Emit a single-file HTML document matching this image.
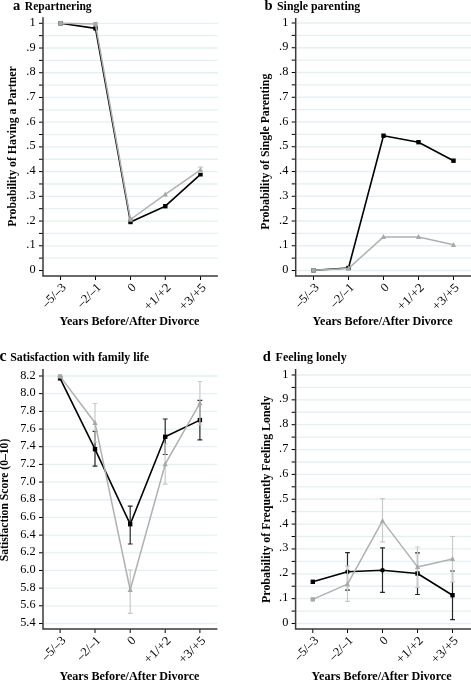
<!DOCTYPE html>
<html><head><meta charset="utf-8"><style>
html,body{margin:0;padding:0;background:#fff;}
svg{display:block;font-family:"Liberation Serif", serif;will-change:transform;}
</style></head><body>
<svg width="471" height="682" viewBox="0 0 471 682">
<rect width="471" height="682" fill="#fff"/>
<line x1="44.0" y1="258.14" x2="217.9" y2="258.14" stroke="#e6eff1" stroke-width="1.3"/>
<line x1="44.0" y1="245.78" x2="217.9" y2="245.78" stroke="#e6eff1" stroke-width="1.3"/>
<line x1="44.0" y1="233.42" x2="217.9" y2="233.42" stroke="#e6eff1" stroke-width="1.3"/>
<line x1="44.0" y1="221.06" x2="217.9" y2="221.06" stroke="#e6eff1" stroke-width="1.3"/>
<line x1="44.0" y1="208.7" x2="217.9" y2="208.7" stroke="#e6eff1" stroke-width="1.3"/>
<line x1="44.0" y1="196.34" x2="217.9" y2="196.34" stroke="#e6eff1" stroke-width="1.3"/>
<line x1="44.0" y1="183.98" x2="217.9" y2="183.98" stroke="#e6eff1" stroke-width="1.3"/>
<line x1="44.0" y1="171.62" x2="217.9" y2="171.62" stroke="#e6eff1" stroke-width="1.3"/>
<line x1="44.0" y1="159.26" x2="217.9" y2="159.26" stroke="#e6eff1" stroke-width="1.3"/>
<line x1="44.0" y1="146.9" x2="217.9" y2="146.9" stroke="#e6eff1" stroke-width="1.3"/>
<line x1="44.0" y1="134.54" x2="217.9" y2="134.54" stroke="#e6eff1" stroke-width="1.3"/>
<line x1="44.0" y1="122.18" x2="217.9" y2="122.18" stroke="#e6eff1" stroke-width="1.3"/>
<line x1="44.0" y1="109.82" x2="217.9" y2="109.82" stroke="#e6eff1" stroke-width="1.3"/>
<line x1="44.0" y1="97.46" x2="217.9" y2="97.46" stroke="#e6eff1" stroke-width="1.3"/>
<line x1="44.0" y1="85.1" x2="217.9" y2="85.1" stroke="#e6eff1" stroke-width="1.3"/>
<line x1="44.0" y1="72.74" x2="217.9" y2="72.74" stroke="#e6eff1" stroke-width="1.3"/>
<line x1="44.0" y1="60.38" x2="217.9" y2="60.38" stroke="#e6eff1" stroke-width="1.3"/>
<line x1="44.0" y1="48.02" x2="217.9" y2="48.02" stroke="#e6eff1" stroke-width="1.3"/>
<line x1="44.0" y1="35.66" x2="217.9" y2="35.66" stroke="#e6eff1" stroke-width="1.3"/>
<line x1="44.0" y1="23.3" x2="217.9" y2="23.3" stroke="#e6eff1" stroke-width="1.3"/>
<line x1="39.0" y1="270.5" x2="43.0" y2="270.5" stroke="#000" stroke-width="1"/>
<text x="35.6" y="273.0" text-anchor="end" font-size="12.3">0</text>
<line x1="39.0" y1="258.14" x2="43.0" y2="258.14" stroke="#000" stroke-width="1"/>
<line x1="39.0" y1="245.78" x2="43.0" y2="245.78" stroke="#000" stroke-width="1"/>
<text x="35.6" y="248.28" text-anchor="end" font-size="12.3">.1</text>
<line x1="39.0" y1="233.42" x2="43.0" y2="233.42" stroke="#000" stroke-width="1"/>
<line x1="39.0" y1="221.06" x2="43.0" y2="221.06" stroke="#000" stroke-width="1"/>
<text x="35.6" y="223.56" text-anchor="end" font-size="12.3">.2</text>
<line x1="39.0" y1="208.7" x2="43.0" y2="208.7" stroke="#000" stroke-width="1"/>
<line x1="39.0" y1="196.34" x2="43.0" y2="196.34" stroke="#000" stroke-width="1"/>
<text x="35.6" y="198.84" text-anchor="end" font-size="12.3">.3</text>
<line x1="39.0" y1="183.98" x2="43.0" y2="183.98" stroke="#000" stroke-width="1"/>
<line x1="39.0" y1="171.62" x2="43.0" y2="171.62" stroke="#000" stroke-width="1"/>
<text x="35.6" y="174.12" text-anchor="end" font-size="12.3">.4</text>
<line x1="39.0" y1="159.26" x2="43.0" y2="159.26" stroke="#000" stroke-width="1"/>
<line x1="39.0" y1="146.9" x2="43.0" y2="146.9" stroke="#000" stroke-width="1"/>
<text x="35.6" y="149.4" text-anchor="end" font-size="12.3">.5</text>
<line x1="39.0" y1="134.54" x2="43.0" y2="134.54" stroke="#000" stroke-width="1"/>
<line x1="39.0" y1="122.18" x2="43.0" y2="122.18" stroke="#000" stroke-width="1"/>
<text x="35.6" y="124.68" text-anchor="end" font-size="12.3">.6</text>
<line x1="39.0" y1="109.82" x2="43.0" y2="109.82" stroke="#000" stroke-width="1"/>
<line x1="39.0" y1="97.46" x2="43.0" y2="97.46" stroke="#000" stroke-width="1"/>
<text x="35.6" y="99.96" text-anchor="end" font-size="12.3">.7</text>
<line x1="39.0" y1="85.1" x2="43.0" y2="85.1" stroke="#000" stroke-width="1"/>
<line x1="39.0" y1="72.74" x2="43.0" y2="72.74" stroke="#000" stroke-width="1"/>
<text x="35.6" y="75.24" text-anchor="end" font-size="12.3">.8</text>
<line x1="39.0" y1="60.38" x2="43.0" y2="60.38" stroke="#000" stroke-width="1"/>
<line x1="39.0" y1="48.02" x2="43.0" y2="48.02" stroke="#000" stroke-width="1"/>
<text x="35.6" y="50.52" text-anchor="end" font-size="12.3">.9</text>
<line x1="39.0" y1="35.66" x2="43.0" y2="35.66" stroke="#000" stroke-width="1"/>
<line x1="39.0" y1="23.3" x2="43.0" y2="23.3" stroke="#000" stroke-width="1"/>
<text x="35.6" y="25.8" text-anchor="end" font-size="12.3">1</text>
<line x1="60.5" y1="276.0" x2="60.5" y2="280.0" stroke="#000" stroke-width="1"/>
<line x1="95.5" y1="276.0" x2="95.5" y2="280.0" stroke="#000" stroke-width="1"/>
<line x1="130.5" y1="276.0" x2="130.5" y2="280.0" stroke="#000" stroke-width="1"/>
<line x1="165.3" y1="276.0" x2="165.3" y2="280.0" stroke="#000" stroke-width="1"/>
<line x1="200.5" y1="276.0" x2="200.5" y2="280.0" stroke="#000" stroke-width="1"/>
<path d="M43.0 17.3 V276.0 H217.9" fill="none" stroke="#3a3a3a" stroke-width="1.5"/>
<text x="66.8" y="288.1" text-anchor="end" font-size="12.5" transform="rotate(-45 66.8 288.1)">–5/–3</text>
<text x="101.8" y="288.1" text-anchor="end" font-size="12.5" transform="rotate(-45 101.8 288.1)">–2/–1</text>
<text x="136.8" y="288.1" text-anchor="end" font-size="12.5" transform="rotate(-45 136.8 288.1)">0</text>
<text x="171.60000000000002" y="288.1" text-anchor="end" font-size="12.5" transform="rotate(-45 171.60000000000002 288.1)" textLength="32.5" lengthAdjust="spacingAndGlyphs">+1/+2</text>
<text x="206.8" y="288.1" text-anchor="end" font-size="12.5" transform="rotate(-45 206.8 288.1)" textLength="32.5" lengthAdjust="spacingAndGlyphs">+3/+5</text>
<text x="59.5" y="325" font-weight="bold" font-size="12" textLength="140" lengthAdjust="spacingAndGlyphs">Years Before/After Divorce</text>
<text x="16.0" y="146.5" font-weight="bold" font-size="12" text-anchor="middle" transform="rotate(-90 16.0 146.5)" textLength="160.4" lengthAdjust="spacingAndGlyphs">Probability of Having a Partner</text>
<text x="13.0" y="9.6" font-weight="bold" font-size="14.5">a</text>
<text x="24.8" y="9.6" font-weight="bold" font-size="11.8" textLength="66.8" lengthAdjust="spacingAndGlyphs">Repartnering</text>
<polyline points="60.5,23.3 95.5,28.4 130.5,222.0 165.3,206.2 200.5,174.3" fill="none" stroke="#000" stroke-width="1.6" stroke-linejoin="round"/>
<rect x="58.3" y="21.1" width="4.4" height="4.4" fill="#000"/>
<rect x="93.3" y="26.2" width="4.4" height="4.4" fill="#000"/>
<rect x="128.3" y="219.8" width="4.4" height="4.4" fill="#000"/>
<rect x="163.10000000000002" y="204.0" width="4.4" height="4.4" fill="#000"/>
<rect x="198.3" y="172.10000000000002" width="4.4" height="4.4" fill="#000"/>
<path d="M200.5 167.2 V172.4 M198.1 167.2 H202.9 M198.1 172.4 H202.9" stroke="#c8c8c8" stroke-width="1.2" fill="none"/>
<polyline points="60.5,23.3 95.5,24.1 130.5,219.5 165.3,194.3 200.5,169.8" fill="none" stroke="#b0b0b0" stroke-width="1.5" stroke-linejoin="round"/>
<rect x="58.3" y="21.1" width="4.4" height="4.4" fill="#a8a8a8"/>
<rect x="93.3" y="21.900000000000002" width="4.4" height="4.4" fill="#a8a8a8"/>
<rect x="128.3" y="217.3" width="4.4" height="4.4" fill="#a8a8a8"/>
<path d="M165.3 191.4 L167.9 196.4 L162.70000000000002 196.4 Z" fill="#a8a8a8"/>
<path d="M200.5 166.9 L203.1 171.9 L197.9 171.9 Z" fill="#a8a8a8"/>
<line x1="296.7" y1="270.5" x2="471" y2="270.5" stroke="#e6eff1" stroke-width="1.3"/>
<line x1="296.7" y1="258.12" x2="471" y2="258.12" stroke="#e6eff1" stroke-width="1.3"/>
<line x1="296.7" y1="245.75" x2="471" y2="245.75" stroke="#e6eff1" stroke-width="1.3"/>
<line x1="296.7" y1="233.38" x2="471" y2="233.38" stroke="#e6eff1" stroke-width="1.3"/>
<line x1="296.7" y1="221.0" x2="471" y2="221.0" stroke="#e6eff1" stroke-width="1.3"/>
<line x1="296.7" y1="208.62" x2="471" y2="208.62" stroke="#e6eff1" stroke-width="1.3"/>
<line x1="296.7" y1="196.25" x2="471" y2="196.25" stroke="#e6eff1" stroke-width="1.3"/>
<line x1="296.7" y1="183.88" x2="471" y2="183.88" stroke="#e6eff1" stroke-width="1.3"/>
<line x1="296.7" y1="171.5" x2="471" y2="171.5" stroke="#e6eff1" stroke-width="1.3"/>
<line x1="296.7" y1="159.12" x2="471" y2="159.12" stroke="#e6eff1" stroke-width="1.3"/>
<line x1="296.7" y1="146.75" x2="471" y2="146.75" stroke="#e6eff1" stroke-width="1.3"/>
<line x1="296.7" y1="134.38" x2="471" y2="134.38" stroke="#e6eff1" stroke-width="1.3"/>
<line x1="296.7" y1="122.0" x2="471" y2="122.0" stroke="#e6eff1" stroke-width="1.3"/>
<line x1="296.7" y1="109.62" x2="471" y2="109.62" stroke="#e6eff1" stroke-width="1.3"/>
<line x1="296.7" y1="97.25" x2="471" y2="97.25" stroke="#e6eff1" stroke-width="1.3"/>
<line x1="296.7" y1="84.88" x2="471" y2="84.88" stroke="#e6eff1" stroke-width="1.3"/>
<line x1="296.7" y1="72.5" x2="471" y2="72.5" stroke="#e6eff1" stroke-width="1.3"/>
<line x1="296.7" y1="60.12" x2="471" y2="60.12" stroke="#e6eff1" stroke-width="1.3"/>
<line x1="296.7" y1="47.75" x2="471" y2="47.75" stroke="#e6eff1" stroke-width="1.3"/>
<line x1="296.7" y1="35.37" x2="471" y2="35.37" stroke="#e6eff1" stroke-width="1.3"/>
<line x1="296.7" y1="23.0" x2="471" y2="23.0" stroke="#e6eff1" stroke-width="1.3"/>
<line x1="291.7" y1="270.5" x2="295.7" y2="270.5" stroke="#000" stroke-width="1"/>
<text x="288.3" y="273.0" text-anchor="end" font-size="12.3">0</text>
<line x1="291.7" y1="258.12" x2="295.7" y2="258.12" stroke="#000" stroke-width="1"/>
<line x1="291.7" y1="245.75" x2="295.7" y2="245.75" stroke="#000" stroke-width="1"/>
<text x="288.3" y="248.25" text-anchor="end" font-size="12.3">.1</text>
<line x1="291.7" y1="233.38" x2="295.7" y2="233.38" stroke="#000" stroke-width="1"/>
<line x1="291.7" y1="221.0" x2="295.7" y2="221.0" stroke="#000" stroke-width="1"/>
<text x="288.3" y="223.5" text-anchor="end" font-size="12.3">.2</text>
<line x1="291.7" y1="208.62" x2="295.7" y2="208.62" stroke="#000" stroke-width="1"/>
<line x1="291.7" y1="196.25" x2="295.7" y2="196.25" stroke="#000" stroke-width="1"/>
<text x="288.3" y="198.75" text-anchor="end" font-size="12.3">.3</text>
<line x1="291.7" y1="183.88" x2="295.7" y2="183.88" stroke="#000" stroke-width="1"/>
<line x1="291.7" y1="171.5" x2="295.7" y2="171.5" stroke="#000" stroke-width="1"/>
<text x="288.3" y="174.0" text-anchor="end" font-size="12.3">.4</text>
<line x1="291.7" y1="159.12" x2="295.7" y2="159.12" stroke="#000" stroke-width="1"/>
<line x1="291.7" y1="146.75" x2="295.7" y2="146.75" stroke="#000" stroke-width="1"/>
<text x="288.3" y="149.25" text-anchor="end" font-size="12.3">.5</text>
<line x1="291.7" y1="134.38" x2="295.7" y2="134.38" stroke="#000" stroke-width="1"/>
<line x1="291.7" y1="122.0" x2="295.7" y2="122.0" stroke="#000" stroke-width="1"/>
<text x="288.3" y="124.5" text-anchor="end" font-size="12.3">.6</text>
<line x1="291.7" y1="109.62" x2="295.7" y2="109.62" stroke="#000" stroke-width="1"/>
<line x1="291.7" y1="97.25" x2="295.7" y2="97.25" stroke="#000" stroke-width="1"/>
<text x="288.3" y="99.75" text-anchor="end" font-size="12.3">.7</text>
<line x1="291.7" y1="84.88" x2="295.7" y2="84.88" stroke="#000" stroke-width="1"/>
<line x1="291.7" y1="72.5" x2="295.7" y2="72.5" stroke="#000" stroke-width="1"/>
<text x="288.3" y="75.0" text-anchor="end" font-size="12.3">.8</text>
<line x1="291.7" y1="60.12" x2="295.7" y2="60.12" stroke="#000" stroke-width="1"/>
<line x1="291.7" y1="47.75" x2="295.7" y2="47.75" stroke="#000" stroke-width="1"/>
<text x="288.3" y="50.25" text-anchor="end" font-size="12.3">.9</text>
<line x1="291.7" y1="35.37" x2="295.7" y2="35.37" stroke="#000" stroke-width="1"/>
<line x1="291.7" y1="23.0" x2="295.7" y2="23.0" stroke="#000" stroke-width="1"/>
<text x="288.3" y="25.5" text-anchor="end" font-size="12.3">1</text>
<line x1="313.5" y1="276.0" x2="313.5" y2="280.0" stroke="#000" stroke-width="1"/>
<line x1="348.5" y1="276.0" x2="348.5" y2="280.0" stroke="#000" stroke-width="1"/>
<line x1="383.5" y1="276.0" x2="383.5" y2="280.0" stroke="#000" stroke-width="1"/>
<line x1="418.5" y1="276.0" x2="418.5" y2="280.0" stroke="#000" stroke-width="1"/>
<line x1="453.5" y1="276.0" x2="453.5" y2="280.0" stroke="#000" stroke-width="1"/>
<path d="M295.7 17.9 V276.0 H471" fill="none" stroke="#3a3a3a" stroke-width="1.5"/>
<text x="319.8" y="288.1" text-anchor="end" font-size="12.5" transform="rotate(-45 319.8 288.1)">–5/–3</text>
<text x="354.8" y="288.1" text-anchor="end" font-size="12.5" transform="rotate(-45 354.8 288.1)">–2/–1</text>
<text x="389.8" y="288.1" text-anchor="end" font-size="12.5" transform="rotate(-45 389.8 288.1)">0</text>
<text x="424.8" y="288.1" text-anchor="end" font-size="12.5" transform="rotate(-45 424.8 288.1)" textLength="32.5" lengthAdjust="spacingAndGlyphs">+1/+2</text>
<text x="459.8" y="288.1" text-anchor="end" font-size="12.5" transform="rotate(-45 459.8 288.1)" textLength="32.5" lengthAdjust="spacingAndGlyphs">+3/+5</text>
<text x="312.6" y="325" font-weight="bold" font-size="12" textLength="140" lengthAdjust="spacingAndGlyphs">Years Before/After Divorce</text>
<text x="269.3" y="151.7" font-weight="bold" font-size="12" text-anchor="middle" transform="rotate(-90 269.3 151.7)" textLength="156" lengthAdjust="spacingAndGlyphs">Probability of Single Parenting</text>
<text x="264.6" y="9.6" font-weight="bold" font-size="14.5">b</text>
<text x="277" y="9.6" font-weight="bold" font-size="11.8" textLength="83.3" lengthAdjust="spacingAndGlyphs">Single parenting</text>
<polyline points="313.5,270.3 348.5,268.0 383.5,135.7 418.5,142.2 453.5,160.7" fill="none" stroke="#000" stroke-width="1.6" stroke-linejoin="round"/>
<rect x="311.3" y="268.1" width="4.4" height="4.4" fill="#000"/>
<rect x="346.3" y="265.8" width="4.4" height="4.4" fill="#000"/>
<rect x="381.3" y="133.5" width="4.4" height="4.4" fill="#000"/>
<rect x="416.3" y="140.0" width="4.4" height="4.4" fill="#000"/>
<rect x="451.3" y="158.5" width="4.4" height="4.4" fill="#000"/>
<polyline points="313.5,270.3 348.5,268.4 383.5,236.9 418.5,236.9 453.5,244.8" fill="none" stroke="#b0b0b0" stroke-width="1.5" stroke-linejoin="round"/>
<rect x="311.3" y="268.1" width="4.4" height="4.4" fill="#a8a8a8"/>
<path d="M348.5 265.5 L351.1 270.5 L345.9 270.5 Z" fill="#a8a8a8"/>
<path d="M383.5 234.0 L386.1 239.0 L380.9 239.0 Z" fill="#a8a8a8"/>
<path d="M418.5 234.0 L421.1 239.0 L415.9 239.0 Z" fill="#a8a8a8"/>
<path d="M453.5 241.9 L456.1 246.9 L450.9 246.9 Z" fill="#a8a8a8"/>
<line x1="44.0" y1="623.5" x2="217.4" y2="623.5" stroke="#e6eff1" stroke-width="1.3"/>
<line x1="44.0" y1="605.82" x2="217.4" y2="605.82" stroke="#e6eff1" stroke-width="1.3"/>
<line x1="44.0" y1="588.14" x2="217.4" y2="588.14" stroke="#e6eff1" stroke-width="1.3"/>
<line x1="44.0" y1="570.46" x2="217.4" y2="570.46" stroke="#e6eff1" stroke-width="1.3"/>
<line x1="44.0" y1="552.79" x2="217.4" y2="552.79" stroke="#e6eff1" stroke-width="1.3"/>
<line x1="44.0" y1="535.11" x2="217.4" y2="535.11" stroke="#e6eff1" stroke-width="1.3"/>
<line x1="44.0" y1="517.43" x2="217.4" y2="517.43" stroke="#e6eff1" stroke-width="1.3"/>
<line x1="44.0" y1="499.75" x2="217.4" y2="499.75" stroke="#e6eff1" stroke-width="1.3"/>
<line x1="44.0" y1="482.07" x2="217.4" y2="482.07" stroke="#e6eff1" stroke-width="1.3"/>
<line x1="44.0" y1="464.39" x2="217.4" y2="464.39" stroke="#e6eff1" stroke-width="1.3"/>
<line x1="44.0" y1="446.71" x2="217.4" y2="446.71" stroke="#e6eff1" stroke-width="1.3"/>
<line x1="44.0" y1="429.04" x2="217.4" y2="429.04" stroke="#e6eff1" stroke-width="1.3"/>
<line x1="44.0" y1="411.36" x2="217.4" y2="411.36" stroke="#e6eff1" stroke-width="1.3"/>
<line x1="44.0" y1="393.68" x2="217.4" y2="393.68" stroke="#e6eff1" stroke-width="1.3"/>
<line x1="44.0" y1="376.0" x2="217.4" y2="376.0" stroke="#e6eff1" stroke-width="1.3"/>
<line x1="39.0" y1="623.5" x2="43.0" y2="623.5" stroke="#000" stroke-width="1"/>
<text x="35.6" y="626.0" text-anchor="end" font-size="12.3">5.4</text>
<line x1="39.0" y1="605.82" x2="43.0" y2="605.82" stroke="#000" stroke-width="1"/>
<text x="35.6" y="608.32" text-anchor="end" font-size="12.3">5.6</text>
<line x1="39.0" y1="588.14" x2="43.0" y2="588.14" stroke="#000" stroke-width="1"/>
<text x="35.6" y="590.64" text-anchor="end" font-size="12.3">5.8</text>
<line x1="39.0" y1="570.46" x2="43.0" y2="570.46" stroke="#000" stroke-width="1"/>
<text x="35.6" y="572.96" text-anchor="end" font-size="12.3">6.0</text>
<line x1="39.0" y1="552.79" x2="43.0" y2="552.79" stroke="#000" stroke-width="1"/>
<text x="35.6" y="555.29" text-anchor="end" font-size="12.3">6.2</text>
<line x1="39.0" y1="535.11" x2="43.0" y2="535.11" stroke="#000" stroke-width="1"/>
<text x="35.6" y="537.61" text-anchor="end" font-size="12.3">6.4</text>
<line x1="39.0" y1="517.43" x2="43.0" y2="517.43" stroke="#000" stroke-width="1"/>
<text x="35.6" y="519.93" text-anchor="end" font-size="12.3">6.6</text>
<line x1="39.0" y1="499.75" x2="43.0" y2="499.75" stroke="#000" stroke-width="1"/>
<text x="35.6" y="502.25" text-anchor="end" font-size="12.3">6.8</text>
<line x1="39.0" y1="482.07" x2="43.0" y2="482.07" stroke="#000" stroke-width="1"/>
<text x="35.6" y="484.57" text-anchor="end" font-size="12.3">7.0</text>
<line x1="39.0" y1="464.39" x2="43.0" y2="464.39" stroke="#000" stroke-width="1"/>
<text x="35.6" y="466.89" text-anchor="end" font-size="12.3">7.2</text>
<line x1="39.0" y1="446.71" x2="43.0" y2="446.71" stroke="#000" stroke-width="1"/>
<text x="35.6" y="449.21" text-anchor="end" font-size="12.3">7.4</text>
<line x1="39.0" y1="429.04" x2="43.0" y2="429.04" stroke="#000" stroke-width="1"/>
<text x="35.6" y="431.54" text-anchor="end" font-size="12.3">7.6</text>
<line x1="39.0" y1="411.36" x2="43.0" y2="411.36" stroke="#000" stroke-width="1"/>
<text x="35.6" y="413.86" text-anchor="end" font-size="12.3">7.8</text>
<line x1="39.0" y1="393.68" x2="43.0" y2="393.68" stroke="#000" stroke-width="1"/>
<text x="35.6" y="396.18" text-anchor="end" font-size="12.3">8.0</text>
<line x1="39.0" y1="376.0" x2="43.0" y2="376.0" stroke="#000" stroke-width="1"/>
<text x="35.6" y="378.5" text-anchor="end" font-size="12.3">8.2</text>
<line x1="60.1" y1="629.0" x2="60.1" y2="633.0" stroke="#000" stroke-width="1"/>
<line x1="95.0" y1="629.0" x2="95.0" y2="633.0" stroke="#000" stroke-width="1"/>
<line x1="130.2" y1="629.0" x2="130.2" y2="633.0" stroke="#000" stroke-width="1"/>
<line x1="165.2" y1="629.0" x2="165.2" y2="633.0" stroke="#000" stroke-width="1"/>
<line x1="199.9" y1="629.0" x2="199.9" y2="633.0" stroke="#000" stroke-width="1"/>
<path d="M43.0 369.1 V629.0 H217.4" fill="none" stroke="#3a3a3a" stroke-width="1.5"/>
<text x="66.4" y="641.1" text-anchor="end" font-size="12.5" transform="rotate(-45 66.4 641.1)">–5/–3</text>
<text x="101.3" y="641.1" text-anchor="end" font-size="12.5" transform="rotate(-45 101.3 641.1)">–2/–1</text>
<text x="136.5" y="641.1" text-anchor="end" font-size="12.5" transform="rotate(-45 136.5 641.1)">0</text>
<text x="171.5" y="641.1" text-anchor="end" font-size="12.5" transform="rotate(-45 171.5 641.1)" textLength="32.5" lengthAdjust="spacingAndGlyphs">+1/+2</text>
<text x="206.20000000000002" y="641.1" text-anchor="end" font-size="12.5" transform="rotate(-45 206.20000000000002 641.1)" textLength="32.5" lengthAdjust="spacingAndGlyphs">+3/+5</text>
<text x="59.5" y="679.7" font-weight="bold" font-size="12" textLength="140" lengthAdjust="spacingAndGlyphs">Years Before/After Divorce</text>
<text x="8.3" y="500" font-weight="bold" font-size="12" text-anchor="middle" transform="rotate(-90 8.3 500)" textLength="122.5" lengthAdjust="spacingAndGlyphs">Satisfaction Score (0–10)</text>
<text x="-0.6" y="360.8" font-weight="bold" font-size="15.8">c</text>
<text x="10.2" y="360.8" font-weight="bold" font-size="11.8" textLength="138.8" lengthAdjust="spacingAndGlyphs">Satisfaction with family life</text>
<path d="M95.0 431.4 V466.2 M92.6 431.4 H97.4 M92.6 466.2 H97.4" stroke="#262626" stroke-width="1.2" fill="none"/>
<path d="M130.2 506.2 V544.0 M127.79999999999998 506.2 H132.6 M127.79999999999998 544.0 H132.6" stroke="#262626" stroke-width="1.2" fill="none"/>
<path d="M165.2 419.0 V454.5 M162.79999999999998 419.0 H167.6 M162.79999999999998 454.5 H167.6" stroke="#262626" stroke-width="1.2" fill="none"/>
<path d="M199.9 400.4 V439.8 M197.5 400.4 H202.3 M197.5 439.8 H202.3" stroke="#262626" stroke-width="1.2" fill="none"/>
<polyline points="60.1,378.3 95.0,449.2 130.2,524.2 165.2,436.8 199.9,420.1" fill="none" stroke="#000" stroke-width="1.6" stroke-linejoin="round"/>
<rect x="57.9" y="376.1" width="4.4" height="4.4" fill="#000"/>
<rect x="92.8" y="447.0" width="4.4" height="4.4" fill="#000"/>
<rect x="127.99999999999999" y="522.0" width="4.4" height="4.4" fill="#000"/>
<rect x="163.0" y="434.6" width="4.4" height="4.4" fill="#000"/>
<rect x="197.70000000000002" y="417.90000000000003" width="4.4" height="4.4" fill="#000"/>
<path d="M95.0 403.5 V442.2 M92.6 403.5 H97.4 M92.6 442.2 H97.4" stroke="#c8c8c8" stroke-width="1.2" fill="none"/>
<path d="M130.2 570.0 V613.4 M127.79999999999998 570.0 H132.6 M127.79999999999998 613.4 H132.6" stroke="#c8c8c8" stroke-width="1.2" fill="none"/>
<path d="M165.2 444.0 V484.1 M162.79999999999998 444.0 H167.6 M162.79999999999998 484.1 H167.6" stroke="#c8c8c8" stroke-width="1.2" fill="none"/>
<path d="M199.9 381.5 V425.0 M197.5 381.5 H202.3 M197.5 425.0 H202.3" stroke="#c8c8c8" stroke-width="1.2" fill="none"/>
<polyline points="60.1,376.4 95.0,422.8 130.2,590.0 165.2,464.2 199.9,403.2" fill="none" stroke="#b0b0b0" stroke-width="1.5" stroke-linejoin="round"/>
<rect x="57.9" y="374.2" width="4.4" height="4.4" fill="#a8a8a8"/>
<path d="M95.0 419.90000000000003 L97.6 424.90000000000003 L92.4 424.90000000000003 Z" fill="#a8a8a8"/>
<path d="M130.2 587.1 L132.79999999999998 592.1 L127.6 592.1 Z" fill="#a8a8a8"/>
<path d="M165.2 461.3 L167.79999999999998 466.3 L162.6 466.3 Z" fill="#a8a8a8"/>
<path d="M199.9 400.3 L202.5 405.3 L197.3 405.3 Z" fill="#a8a8a8"/>
<line x1="296.6" y1="623.5" x2="471" y2="623.5" stroke="#e6eff1" stroke-width="1.3"/>
<line x1="296.6" y1="611.08" x2="471" y2="611.08" stroke="#e6eff1" stroke-width="1.3"/>
<line x1="296.6" y1="598.65" x2="471" y2="598.65" stroke="#e6eff1" stroke-width="1.3"/>
<line x1="296.6" y1="586.23" x2="471" y2="586.23" stroke="#e6eff1" stroke-width="1.3"/>
<line x1="296.6" y1="573.8" x2="471" y2="573.8" stroke="#e6eff1" stroke-width="1.3"/>
<line x1="296.6" y1="561.38" x2="471" y2="561.38" stroke="#e6eff1" stroke-width="1.3"/>
<line x1="296.6" y1="548.95" x2="471" y2="548.95" stroke="#e6eff1" stroke-width="1.3"/>
<line x1="296.6" y1="536.52" x2="471" y2="536.52" stroke="#e6eff1" stroke-width="1.3"/>
<line x1="296.6" y1="524.1" x2="471" y2="524.1" stroke="#e6eff1" stroke-width="1.3"/>
<line x1="296.6" y1="511.68" x2="471" y2="511.68" stroke="#e6eff1" stroke-width="1.3"/>
<line x1="296.6" y1="499.25" x2="471" y2="499.25" stroke="#e6eff1" stroke-width="1.3"/>
<line x1="296.6" y1="486.82" x2="471" y2="486.82" stroke="#e6eff1" stroke-width="1.3"/>
<line x1="296.6" y1="474.4" x2="471" y2="474.4" stroke="#e6eff1" stroke-width="1.3"/>
<line x1="296.6" y1="461.98" x2="471" y2="461.98" stroke="#e6eff1" stroke-width="1.3"/>
<line x1="296.6" y1="449.55" x2="471" y2="449.55" stroke="#e6eff1" stroke-width="1.3"/>
<line x1="296.6" y1="437.12" x2="471" y2="437.12" stroke="#e6eff1" stroke-width="1.3"/>
<line x1="296.6" y1="424.7" x2="471" y2="424.7" stroke="#e6eff1" stroke-width="1.3"/>
<line x1="296.6" y1="412.27" x2="471" y2="412.27" stroke="#e6eff1" stroke-width="1.3"/>
<line x1="296.6" y1="399.85" x2="471" y2="399.85" stroke="#e6eff1" stroke-width="1.3"/>
<line x1="296.6" y1="387.42" x2="471" y2="387.42" stroke="#e6eff1" stroke-width="1.3"/>
<line x1="296.6" y1="375.0" x2="471" y2="375.0" stroke="#e6eff1" stroke-width="1.3"/>
<line x1="291.6" y1="623.5" x2="295.6" y2="623.5" stroke="#000" stroke-width="1"/>
<text x="288.3" y="626.0" text-anchor="end" font-size="12.3">0</text>
<line x1="291.6" y1="611.08" x2="295.6" y2="611.08" stroke="#000" stroke-width="1"/>
<line x1="291.6" y1="598.65" x2="295.6" y2="598.65" stroke="#000" stroke-width="1"/>
<text x="288.3" y="601.15" text-anchor="end" font-size="12.3">.1</text>
<line x1="291.6" y1="586.23" x2="295.6" y2="586.23" stroke="#000" stroke-width="1"/>
<line x1="291.6" y1="573.8" x2="295.6" y2="573.8" stroke="#000" stroke-width="1"/>
<text x="288.3" y="576.3" text-anchor="end" font-size="12.3">.2</text>
<line x1="291.6" y1="561.38" x2="295.6" y2="561.38" stroke="#000" stroke-width="1"/>
<line x1="291.6" y1="548.95" x2="295.6" y2="548.95" stroke="#000" stroke-width="1"/>
<text x="288.3" y="551.45" text-anchor="end" font-size="12.3">.3</text>
<line x1="291.6" y1="536.52" x2="295.6" y2="536.52" stroke="#000" stroke-width="1"/>
<line x1="291.6" y1="524.1" x2="295.6" y2="524.1" stroke="#000" stroke-width="1"/>
<text x="288.3" y="526.6" text-anchor="end" font-size="12.3">.4</text>
<line x1="291.6" y1="511.68" x2="295.6" y2="511.68" stroke="#000" stroke-width="1"/>
<line x1="291.6" y1="499.25" x2="295.6" y2="499.25" stroke="#000" stroke-width="1"/>
<text x="288.3" y="501.75" text-anchor="end" font-size="12.3">.5</text>
<line x1="291.6" y1="486.82" x2="295.6" y2="486.82" stroke="#000" stroke-width="1"/>
<line x1="291.6" y1="474.4" x2="295.6" y2="474.4" stroke="#000" stroke-width="1"/>
<text x="288.3" y="476.9" text-anchor="end" font-size="12.3">.6</text>
<line x1="291.6" y1="461.98" x2="295.6" y2="461.98" stroke="#000" stroke-width="1"/>
<line x1="291.6" y1="449.55" x2="295.6" y2="449.55" stroke="#000" stroke-width="1"/>
<text x="288.3" y="452.05" text-anchor="end" font-size="12.3">.7</text>
<line x1="291.6" y1="437.12" x2="295.6" y2="437.12" stroke="#000" stroke-width="1"/>
<line x1="291.6" y1="424.7" x2="295.6" y2="424.7" stroke="#000" stroke-width="1"/>
<text x="288.3" y="427.2" text-anchor="end" font-size="12.3">.8</text>
<line x1="291.6" y1="412.27" x2="295.6" y2="412.27" stroke="#000" stroke-width="1"/>
<line x1="291.6" y1="399.85" x2="295.6" y2="399.85" stroke="#000" stroke-width="1"/>
<text x="288.3" y="402.35" text-anchor="end" font-size="12.3">.9</text>
<line x1="291.6" y1="387.42" x2="295.6" y2="387.42" stroke="#000" stroke-width="1"/>
<line x1="291.6" y1="375.0" x2="295.6" y2="375.0" stroke="#000" stroke-width="1"/>
<text x="288.3" y="377.5" text-anchor="end" font-size="12.3">1</text>
<line x1="312.8" y1="629.0" x2="312.8" y2="633.0" stroke="#000" stroke-width="1"/>
<line x1="347.5" y1="629.0" x2="347.5" y2="633.0" stroke="#000" stroke-width="1"/>
<line x1="382.5" y1="629.0" x2="382.5" y2="633.0" stroke="#000" stroke-width="1"/>
<line x1="417.5" y1="629.0" x2="417.5" y2="633.0" stroke="#000" stroke-width="1"/>
<line x1="452.5" y1="629.0" x2="452.5" y2="633.0" stroke="#000" stroke-width="1"/>
<path d="M295.6 369.1 V629.0 H471" fill="none" stroke="#3a3a3a" stroke-width="1.5"/>
<text x="319.1" y="641.1" text-anchor="end" font-size="12.5" transform="rotate(-45 319.1 641.1)">–5/–3</text>
<text x="353.8" y="641.1" text-anchor="end" font-size="12.5" transform="rotate(-45 353.8 641.1)">–2/–1</text>
<text x="388.8" y="641.1" text-anchor="end" font-size="12.5" transform="rotate(-45 388.8 641.1)">0</text>
<text x="423.8" y="641.1" text-anchor="end" font-size="12.5" transform="rotate(-45 423.8 641.1)" textLength="32.5" lengthAdjust="spacingAndGlyphs">+1/+2</text>
<text x="458.8" y="641.1" text-anchor="end" font-size="12.5" transform="rotate(-45 458.8 641.1)" textLength="32.5" lengthAdjust="spacingAndGlyphs">+3/+5</text>
<text x="311.6" y="679.7" font-weight="bold" font-size="12" textLength="140" lengthAdjust="spacingAndGlyphs">Years Before/After Divorce</text>
<text x="269.8" y="499.4" font-weight="bold" font-size="12" text-anchor="middle" transform="rotate(-90 269.8 499.4)" textLength="207" lengthAdjust="spacingAndGlyphs">Probability of Frequently Feeling Lonely</text>
<text x="262.8" y="360.9" font-weight="bold" font-size="14.5">d</text>
<text x="275.6" y="360.9" font-weight="bold" font-size="11.8" textLength="71.1" lengthAdjust="spacingAndGlyphs">Feeling lonely</text>
<path d="M347.5 552.7 V590.1 M345.1 552.7 H349.9 M345.1 590.1 H349.9" stroke="#262626" stroke-width="1.2" fill="none"/>
<path d="M382.5 547.8 V592.4 M380.1 547.8 H384.9 M380.1 592.4 H384.9" stroke="#262626" stroke-width="1.2" fill="none"/>
<path d="M417.5 552.9 V594.5 M415.1 552.9 H419.9 M415.1 594.5 H419.9" stroke="#262626" stroke-width="1.2" fill="none"/>
<path d="M452.5 571.0 V619.7 M450.1 571.0 H454.9 M450.1 619.7 H454.9" stroke="#262626" stroke-width="1.2" fill="none"/>
<polyline points="312.8,581.8 347.5,571.8 382.5,570.3 417.5,573.5 452.5,595.2" fill="none" stroke="#000" stroke-width="1.6" stroke-linejoin="round"/>
<rect x="310.6" y="579.5999999999999" width="4.4" height="4.4" fill="#000"/>
<circle cx="347.5" cy="571.8" r="2.3" fill="#000"/>
<circle cx="382.5" cy="570.3" r="2.3" fill="#000"/>
<rect x="415.3" y="571.3" width="4.4" height="4.4" fill="#000"/>
<rect x="450.3" y="593.0" width="4.4" height="4.4" fill="#000"/>
<path d="M347.5 566.2 V601.4 M345.1 566.2 H349.9 M345.1 601.4 H349.9" stroke="#c8c8c8" stroke-width="1.2" fill="none"/>
<path d="M382.5 498.7 V541.9 M380.1 498.7 H384.9 M380.1 541.9 H384.9" stroke="#c8c8c8" stroke-width="1.2" fill="none"/>
<path d="M417.5 547.0 V587.5 M415.1 547.0 H419.9 M415.1 587.5 H419.9" stroke="#c8c8c8" stroke-width="1.2" fill="none"/>
<path d="M452.5 536.5 V581.9 M450.1 536.5 H454.9 M450.1 581.9 H454.9" stroke="#c8c8c8" stroke-width="1.2" fill="none"/>
<polyline points="312.8,599.4 347.5,584.1 382.5,520.9 417.5,566.9 452.5,559.0" fill="none" stroke="#b0b0b0" stroke-width="1.5" stroke-linejoin="round"/>
<rect x="310.6" y="597.1999999999999" width="4.4" height="4.4" fill="#a8a8a8"/>
<path d="M347.5 581.2 L350.1 586.2 L344.9 586.2 Z" fill="#a8a8a8"/>
<path d="M382.5 518.0 L385.1 523.0 L379.9 523.0 Z" fill="#a8a8a8"/>
<path d="M417.5 564.0 L420.1 569.0 L414.9 569.0 Z" fill="#a8a8a8"/>
<path d="M452.5 556.1 L455.1 561.1 L449.9 561.1 Z" fill="#a8a8a8"/>
</svg>
</body></html>
